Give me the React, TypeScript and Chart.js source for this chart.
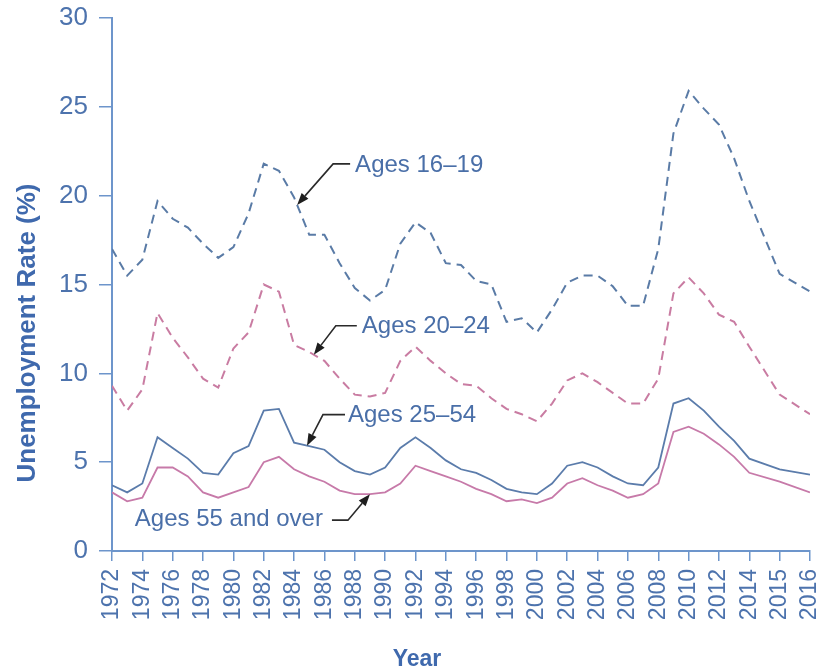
import React, { useEffect, useRef } from "react";
import { Chart, registerables } from "chart.js";

Chart.register(...registerables);

const years = [
  1972, 1973, 1974, 1975, 1976, 1977, 1978, 1979, 1980, 1981,
  1982, 1983, 1984, 1985, 1986, 1987, 1988, 1989, 1990, 1991,
  1992, 1993, 1994, 1995, 1996, 1997, 1998, 1999, 2000, 2001,
  2002, 2003, 2004, 2005, 2006, 2007, 2008, 2009, 2010, 2011,
  2012, 2013, 2014, 2015, 2016,
];

const tickLabels = [
  "1972", "1974", "1976", "1978", "1980", "1982", "1984", "1986",
  "1988", "1990", "1992", "1994", "1996", "1998", "2000", "2002",
  "2004", "2006", "2008", "2010", "2012", "2014", "2015", "2016",
];

const ages16to19 = [
  17.0, 15.5, 16.4, 19.7, 18.7, 18.2, 17.3, 16.5, 17.1, 19.0,
  21.8, 21.4, 19.9, 17.8, 17.8, 16.2, 14.8, 14.1, 14.7, 17.3,
  18.5, 17.9, 16.2, 16.1, 15.2, 15.0, 12.9, 13.1, 12.3, 13.6,
  15.1, 15.5, 15.5, 14.9, 13.8, 13.8, 17.0, 23.5, 25.9, 24.9,
  24.0, 22.1, 19.7, 15.6, 14.6,
];

const ages20to24 = [
  9.3, 7.9, 9.1, 13.4, 12.0, 10.9, 9.7, 9.2, 11.4, 12.3,
  15.0, 14.6, 11.6, 11.2, 10.7, 9.7, 8.8, 8.7, 8.9, 10.7,
  11.5, 10.7, 10.0, 9.4, 9.3, 8.6, 8.0, 7.7, 7.3, 8.3,
  9.6, 10.0, 9.5, 8.9, 8.3, 8.3, 9.7, 14.5, 15.4, 14.5,
  13.3, 12.9, 11.5, 8.8, 7.7,
];

const ages25to54 = [
  3.7, 3.3, 3.8, 6.4, 5.8, 5.2, 4.4, 4.3, 5.5, 5.9,
  7.9, 8.0, 6.1, 5.9, 5.7, 5.0, 4.5, 4.3, 4.7, 5.8,
  6.4, 5.8, 5.1, 4.6, 4.4, 4.0, 3.5, 3.3, 3.2, 3.8,
  4.8, 5.0, 4.7, 4.2, 3.8, 3.7, 4.7, 8.3, 8.6, 7.9,
  7.0, 6.2, 5.2, 4.6, 4.3,
];

const ages55plus = [
  3.3, 2.8, 3.0, 4.7, 4.7, 4.2, 3.3, 3.0, 3.3, 3.6,
  5.0, 5.3, 4.6, 4.2, 3.9, 3.4, 3.2, 3.2, 3.3, 3.8,
  4.8, 4.5, 4.2, 3.9, 3.5, 3.2, 2.8, 2.9, 2.7, 3.0,
  3.8, 4.1, 3.7, 3.4, 3.0, 3.2, 3.8, 6.7, 7.0, 6.6,
  6.0, 5.3, 4.4, 3.9, 3.3,
];

const seriesNames = ["Ages 16–19", "Ages 20–24", "Ages 25–54", "Ages 55 and over"];
const seriesValues = [ages16to19, ages20to24, ages25to54, ages55plus];

// position on the reference's horizontal axis (ticks every other year, then 2015, 2016)
const slotOf = (yr: number) => (yr <= 2014 ? yr - 1972 : 42 + (yr - 2014) * 2);

const FONT = '"Liberation Sans", Arial, Helvetica, sans-serif';
const AXIS = "#6d95cb";
const TICK_TEXT = "#4d73ad";
const TITLE_TEXT = "#3f69ad";
const ANNOT_TEXT = "#4a6fa8";
const COLORS = ["#5a7ba6", "#c97ca2", "#5b7cab", "#c77aa9"];
const DASHED = [true, true, false, false];

const annotations = [
  { series: 0, year: 1984.2, knee: [36, -41], run: 17, gap: 5 },
  { series: 1, year: 1985.3, knee: [22, -29], run: 21, gap: 5 },
  { series: 2, year: 1984.85, knee: [16, -31], run: 22, gap: 3 },
  { series: 3, year: 1989.0, knee: [-22, 26], run: -16, gap: 9 },
];

function valueAt(series: number[], t: number) {
  const i = Math.min(Math.max(Math.floor(t - years[0]), 0), years.length - 2);
  const f = t - years[i];
  return {
    slot: slotOf(years[i]) + f * (slotOf(years[i + 1]) - slotOf(years[i])),
    v: series[i] + f * (series[i + 1] - series[i]),
  };
}

const annotationPlugin = {
  id: "ageAnnotations",
  afterDatasetsDraw(chart: any) {
    const { ctx } = chart;
    const xs = chart.scales.x;
    const ys = chart.scales.y;
    ctx.save();
    for (const a of annotations) {
      const p = valueAt(seriesValues[a.series], a.year);
      const tx = xs.getPixelForValue(p.slot);
      const ty = ys.getPixelForValue(p.v);
      const kx = tx + a.knee[0];
      const ky = ty + a.knee[1];
      const ex = kx + a.run;
      const ang = Math.atan2(ty - ky, tx - kx);
      const headLen = 12;
      const headW = 4.5;
      const bx = tx - headLen * Math.cos(ang);
      const by = ty - headLen * Math.sin(ang);
      ctx.strokeStyle = "#2a2a2a";
      ctx.lineWidth = 1.6;
      ctx.setLineDash([]);
      ctx.beginPath();
      ctx.moveTo(ex, ky);
      ctx.lineTo(kx, ky);
      ctx.lineTo(bx, by);
      ctx.stroke();
      ctx.fillStyle = "#1e1e1e";
      ctx.beginPath();
      ctx.moveTo(tx, ty);
      ctx.lineTo(bx + headW * Math.sin(ang), by - headW * Math.cos(ang));
      ctx.lineTo(bx - headW * Math.sin(ang), by + headW * Math.cos(ang));
      ctx.closePath();
      ctx.fill();
      ctx.font = `24px ${FONT}`;
      ctx.fillStyle = ANNOT_TEXT;
      ctx.textBaseline = "middle";
      if (a.run >= 0) {
        ctx.textAlign = "left";
        ctx.fillText(seriesNames[a.series], ex + a.gap, ky + 1);
      } else {
        ctx.textAlign = "right";
        ctx.fillText(seriesNames[a.series], ex - a.gap, ky - 1);
      }
    }
    ctx.restore();
  },
};

const titlesPlugin = {
  id: "axisTitles",
  afterDraw(chart: any) {
    const { ctx } = chart;
    ctx.save();
    ctx.fillStyle = TITLE_TEXT;
    ctx.textAlign = "center";
    ctx.textBaseline = "middle";
    ctx.font = `bold 23px ${FONT}`;
    ctx.fillText("Year", 417, 660);
    ctx.translate(28, 333);
    ctx.rotate(-Math.PI / 2);
    ctx.font = `bold 26px ${FONT}`;
    ctx.fillText("Unemployment Rate (%)", 0, 0);
    ctx.restore();
  },
};

export default function App() {
  const ref = useRef<HTMLCanvasElement | null>(null);

  useEffect(() => {
    if (!ref.current) return;
    const datasets = seriesValues.map((vals, s) => ({
      label: seriesNames[s],
      data: years.map((yr, i) => ({ x: slotOf(yr), y: vals[i] })),
      borderColor: COLORS[s],
      borderWidth: DASHED[s] ? 2 : 1.8,
      borderDash: DASHED[s] ? [9, 6] : [],
      pointRadius: 0,
      tension: 0,
      fill: false,
    }));

    const chart = new Chart(ref.current, {
      type: "line",
      data: { datasets },
      plugins: [annotationPlugin, titlesPlugin],
      options: {
        responsive: false,
        animation: false,
        layout: { padding: { top: 18, right: 7, left: 0, bottom: 0 } },
        plugins: {
          legend: { display: false },
          tooltip: { enabled: false },
        },
        scales: {
          x: {
            type: "linear",
            min: 0,
            max: 46,
            ticks: {
              stepSize: 2,
              autoSkip: false,
              minRotation: 90,
              maxRotation: 90,
              padding: 8,
              color: TICK_TEXT,
              font: { family: FONT, size: 23 },
              callback: (v: any) => tickLabels[Math.round(Number(v) / 2)] ?? "",
            },
            grid: {
              drawOnChartArea: false,
              drawTicks: true,
              tickLength: 10,
              color: AXIS,
              lineWidth: 1.5,
            },
            border: { display: true, color: AXIS, width: 2 },
            afterFit: (s: any) => {
              s.height = 121;
              s.paddingLeft = 0;
              s.paddingRight = 0;
            },
          },
          y: {
            min: 0,
            max: 30,
            ticks: {
              stepSize: 5,
              padding: 11,
              color: TICK_TEXT,
              font: { family: FONT, size: 26 },
            },
            grid: {
              drawOnChartArea: false,
              drawTicks: true,
              tickLength: 13,
              color: AXIS,
              lineWidth: 1.5,
            },
            border: { display: true, color: AXIS, width: 2 },
            afterFit: (s: any) => {
              s.width = 112;
              s.paddingTop = 0;
              s.paddingBottom = 0;
            },
          },
        },
      } as any,
    });
    return () => chart.destroy();
  }, []);

  return (
    <canvas
      ref={ref}
      width={817}
      height={672}
      style={{ position: "absolute", left: 0, top: 0, width: 817, height: 672, background: "#fff" }}
    />
  );
}
